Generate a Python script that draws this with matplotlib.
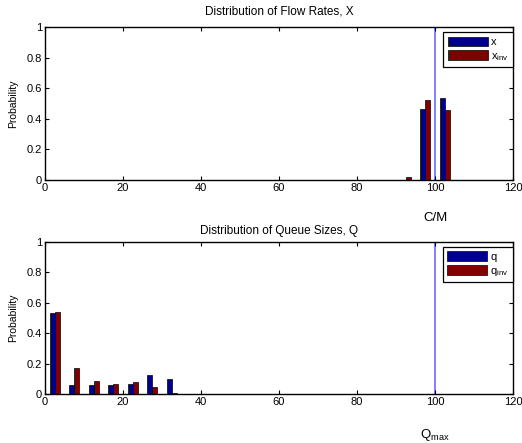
import numpy as np
import matplotlib
matplotlib.use('Agg')
import matplotlib.pyplot as plt
from matplotlib.ticker import FormatStrFormatter

plt.rcParams['font.family'] = ['Liberation Sans', 'DejaVu Sans']
plt.rcParams['mathtext.default'] = 'regular'

# flow rate distribution (bin centres and probabilities)
rate_bins = [92.5, 97.5, 102.5]
x_prob = [0.0, 0.464, 0.536]
x_inv_prob = [0.02, 0.523, 0.457]

# queue size distribution
queue_bins = [2.5, 7.5, 12.5, 17.5, 22.5, 27.5, 32.5]
q_prob = [0.53, 0.062, 0.062, 0.062, 0.068, 0.123, 0.097]
q_inv_prob = [0.54, 0.171, 0.088, 0.068, 0.081, 0.048, 0.004]

capacity = 100   # C/M
q_max = 100

blue = (0.0, 0.0, 0.5625)
red = (0.5, 0.0, 0.0)
bar_w = 1.25

fig = plt.figure(figsize=(5.22, 4.43), dpi=100)
ax1 = fig.add_axes([0.0862, 0.5937, 0.8966, 0.3453])
ax2 = fig.add_axes([0.0862, 0.1106, 0.8966, 0.3431])


def draw_panel(ax, bins, a, b, labels, title, tpad, vline, vlabel, vlabel_y):
    bins = np.asarray(bins)
    ax.bar(bins - bar_w / 2, a, width=bar_w, color=blue, edgecolor='black',
           linewidth=0.5, label=labels[0])
    ax.bar(bins + bar_w / 2, b, width=bar_w, color=red, edgecolor='black',
           linewidth=0.5, label=labels[1])
    ax.axvline(vline, color='#6b6bff', linewidth=1.2, zorder=1)
    ax.set_xlim(0, 120)
    ax.set_ylim(0, 1)
    ax.set_xticks(range(0, 121, 20))
    ax.set_yticks(np.arange(0, 1.01, 0.2))
    ax.yaxis.set_major_formatter(FormatStrFormatter('%g'))
    ax.tick_params(direction='in', top=True, right=True, length=3,
                   width=0.8, labelsize=8, pad=2)
    for s in ax.spines.values():
        s.set_linewidth(1.0)
    ax.set_title(title, fontsize=8.5, pad=tpad)
    ax.set_ylabel('Probability', fontsize=7.5, labelpad=6)
    leg = ax.legend(loc='upper right', bbox_to_anchor=(1.0, 0.967),
                    borderaxespad=0, fontsize=8, fancybox=False,
                    framealpha=1, edgecolor='black', handlelength=3.6,
                    handleheight=0.95, handletextpad=0.3, labelspacing=0.3,
                    borderpad=0.4)
    leg.get_frame().set_linewidth(0.9)
    ax.text(vline, vlabel_y, vlabel, transform=ax.get_xaxis_transform(),
            ha='center', va='center', fontsize=9.5)


draw_panel(ax1, rate_bins, x_prob, x_inv_prob, ['x', r'x$_{inv}$'],
           'Distribution of Flow Rates, X', 9, capacity, 'C/M', -0.25)
draw_panel(ax2, queue_bins, q_prob, q_inv_prob, ['q', r'q$_{inv}$'],
           'Distribution of Queue Sizes, Q', 6, q_max, r'Q$_{max}$', -0.27)

fig.savefig('out.png', dpi=100)
